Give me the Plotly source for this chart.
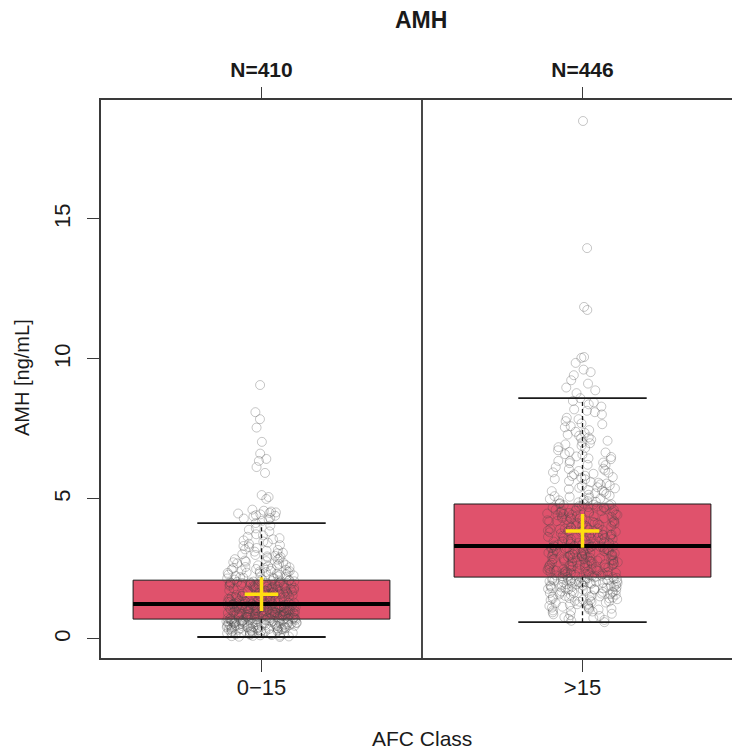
import plotly.graph_objects as go

# ---------------- data ----------------
categories = ["0\u221215", ">15"]
positions = [1, 2]
n_labels = ["N=410", "N=446"]

# box statistics (ng/mL)
q1 = [0.71, 2.21]
median = [1.25, 3.32]
q3 = [2.10, 4.82]
whisker_low = [0.07, 0.60]
whisker_high = [4.14, 8.60]
means = [1.60, 3.86]

# individual AMH values, AFC class 0-15
amh_0_15 = [
    0.07,0.09,0.12,0.15,0.11,0.18,0.21,0.14,0.24,0.27,0.19,0.31,0.08,0.22,0.35,0.29,0.26,0.38,0.33,0.17,
    0.41,0.36,0.44,0.13,0.28,0.47,0.39,0.52,0.32,0.49,0.25,0.55,0.43,0.58,0.37,0.61,0.46,0.2,0.53,0.64,
    0.4,0.57,0.67,0.1,0.5,0.62,0.34,0.69,0.45,0.56,0.3,0.65,0.23,0.59,0.48,0.7,0.42,0.54,0.16,0.63,
    0.51,0.68,0.37,0.6,0.44,0.66,0.27,0.57,0.71,0.48,0.35,0.62,0.53,0.69,0.4,0.58,0.45,0.66,0.31,0.55,
    0.64,0.5,0.7,0.43,0.6,0.38,0.67,0.52,0.47,0.63,0.56,0.33,0.68,0.59,0.41,0.65,0.54,0.7,0.49,0.61,
    0.46,0.71,
    0.72,0.75,0.78,0.81,0.84,0.87,0.9,0.93,0.96,0.99,1.02,1.05,1.08,1.11,1.14,1.17,1.2,1.23,0.74,0.79,
    0.83,0.88,0.92,0.97,1.01,1.06,1.1,1.15,1.19,1.24,0.73,0.77,0.82,0.86,0.91,0.95,1.0,1.04,1.09,1.13,
    1.18,1.22,0.76,0.8,0.85,0.89,0.94,0.98,1.03,1.07,1.12,1.16,1.21,1.25,0.72,0.78,0.84,0.9,0.96,1.02,
    1.08,1.14,1.2,0.74,0.81,0.88,0.95,1.01,1.07,1.13,1.19,0.76,0.83,0.9,0.97,1.04,1.11,1.18,1.24,0.79,
    0.86,0.93,1.0,1.06,1.12,1.17,1.22,0.73,0.8,0.87,0.94,0.99,1.05,1.1,1.15,1.21,0.77,0.85,0.92,1.03,
    1.09,1.16,
    1.26,1.3,1.34,1.38,1.42,1.46,1.5,1.54,1.58,1.62,1.66,1.7,1.74,1.78,1.82,1.86,1.9,1.94,1.98,2.02,
    2.06,2.09,1.28,1.33,1.37,1.41,1.45,1.49,1.53,1.57,1.61,1.65,1.69,1.73,1.77,1.81,1.85,1.89,1.93,1.97,
    2.01,2.05,1.27,1.31,1.36,1.4,1.44,1.48,1.52,1.56,1.6,1.64,1.68,1.72,1.76,1.8,1.84,1.88,1.92,1.96,
    2.0,2.04,2.08,1.29,1.35,1.43,1.51,1.59,1.67,1.75,1.83,1.91,1.99,2.07,1.32,1.39,1.47,1.55,1.63,1.71,
    1.79,1.87,1.95,2.03,1.26,1.34,1.44,1.52,1.62,1.7,1.8,1.9,2.0,2.1,1.3,1.48,1.66,1.84,2.02,1.58,
    1.76,1.94,
    2.12,2.15,2.18,2.21,2.24,2.27,2.3,2.33,2.36,2.39,2.42,2.45,2.48,2.51,2.54,2.57,2.6,2.64,2.68,2.72,
    2.76,2.8,2.85,2.9,2.95,3.0,3.06,3.12,3.18,3.25,3.32,3.4,3.48,3.56,3.65,3.74,3.84,3.95,4.05,4.14,
    2.13,2.19,2.25,2.31,2.37,2.43,2.5,2.56,2.63,2.7,2.78,2.87,2.97,3.08,3.2,3.35,3.52,3.7,3.9,2.16,
    2.22,2.29,2.35,2.41,2.47,2.53,2.62,2.74,2.83,2.93,3.03,3.15,3.28,3.44,3.6,2.2,2.4,
    9.07,8.1,7.85,7.55,7.04,6.62,6.43,6.36,6.14,5.93,5.14,5.07,5.0,4.62,4.58,4.55,4.52,4.5,4.48,4.45,
    4.42,4.4,4.38,4.32,4.3,4.26,4.22,
]

# individual AMH values, AFC class >15
amh_gt_15 = [
    0.6,0.68,0.75,0.82,0.88,0.95,1.0,1.05,1.1,1.15,1.2,1.25,1.3,1.34,1.38,1.42,1.46,1.5,1.54,1.57,
    1.6,1.63,1.66,1.69,1.72,1.75,1.78,1.8,1.83,1.85,1.88,1.9,1.93,1.95,1.97,2.0,2.02,2.04,2.06,2.08,
    2.1,2.12,2.14,2.16,2.18,2.2,0.72,0.9,1.02,1.12,1.22,1.32,1.4,1.48,1.55,1.62,1.68,1.74,1.79,1.84,
    1.89,1.94,1.99,2.03,2.07,2.11,2.15,2.19,0.65,0.85,0.98,1.08,1.18,1.28,1.36,1.44,1.52,1.59,1.65,1.71,
    1.77,1.82,1.87,1.92,1.96,2.01,2.05,2.09,2.13,2.17,2.21,0.78,1.06,1.24,1.39,1.51,1.64,1.76,1.86,1.98,
    2.08,2.16,1.14,1.45,1.7,1.91,2.06,1.33,1.58,1.81,2.0,
    2.22,2.25,2.28,2.31,2.34,2.37,2.4,2.43,2.46,2.49,2.52,2.55,2.58,2.61,2.64,2.67,2.7,2.73,2.76,2.79,
    2.82,2.85,2.88,2.91,2.94,2.97,3.0,3.03,3.06,3.09,3.12,3.15,3.18,3.21,3.24,3.27,3.3,2.23,2.27,2.32,
    2.36,2.41,2.45,2.5,2.54,2.59,2.63,2.68,2.72,2.77,2.81,2.86,2.9,2.95,2.99,3.04,3.08,3.13,3.17,3.22,
    3.26,3.31,2.24,2.3,2.38,2.44,2.51,2.57,2.65,2.71,2.78,2.84,2.92,2.98,3.05,3.11,3.19,3.25,3.32,2.26,
    2.35,2.47,2.56,2.66,2.75,2.87,2.96,3.07,3.16,3.28,2.29,2.42,2.53,2.62,2.74,2.83,2.93,3.02,3.14,3.23,
    2.33,2.48,2.6,2.8,2.89,3.01,3.1,3.2,3.29,2.39,2.69,2.99,
    3.34,3.38,3.42,3.46,3.5,3.54,3.58,3.62,3.66,3.7,3.74,3.78,3.82,3.86,3.9,3.94,3.98,4.02,4.06,4.1,
    4.14,4.18,4.22,4.26,4.3,4.34,4.38,4.42,4.46,4.5,4.54,4.58,4.62,4.66,4.7,4.74,4.78,4.82,3.36,3.41,
    3.47,3.52,3.57,3.63,3.68,3.73,3.79,3.84,3.89,3.95,4.0,4.05,4.11,4.16,4.21,4.27,4.32,4.37,4.43,4.48,
    4.53,4.59,4.64,4.69,4.75,4.8,3.33,3.4,3.49,3.56,3.65,3.72,3.81,3.88,3.97,4.04,4.13,4.2,4.29,4.36,
    4.45,4.52,4.61,4.68,4.77,3.37,3.48,3.6,3.71,3.83,3.93,4.07,4.19,4.31,4.44,4.56,4.71,3.44,3.61,3.77,
    3.92,4.09,4.24,4.4,4.57,4.73,3.53,3.87,4.15,4.49,4.81,3.69,
    4.85,4.9,4.95,5.0,5.05,5.1,5.15,5.2,5.25,5.3,5.35,5.4,5.46,5.52,5.58,5.64,5.7,5.76,5.82,5.88,
    5.94,6.0,6.07,6.14,6.21,6.28,6.35,6.42,6.5,6.58,6.66,6.74,6.82,6.9,6.99,7.08,7.17,7.26,7.36,7.46,
    7.56,7.67,7.78,7.9,8.02,8.15,8.3,8.45,8.6,4.88,4.98,5.08,5.18,5.28,5.38,5.49,5.6,5.71,5.83,5.95,
    6.08,6.22,6.36,6.52,6.68,6.85,7.02,7.2,7.4,7.6,7.85,8.1,8.38,4.92,5.12,5.32,5.55,5.78,6.02,6.3,
    6.6,6.95,7.3,7.7,8.2,5.02,5.42,5.9,6.45,7.12,8.5,4.83,
    8.78,8.88,8.98,9.12,9.24,9.42,9.53,9.62,9.86,10.04,10.07,11.75,11.86,13.96,18.5,
]

# ---------------- styles ----------------
FONT = "Liberation Sans, Arial, sans-serif"
BOX_FILL = "rgb(224,82,108)"
BOX_W = 0.8
CAP_HALF = 0.2
INK = "#1a1a1a"
AX = "#3a3a3a"
FIG_W, FIG_H = 743, 750          # right frame edge falls just outside the 732 px window
M_L, M_R, M_T, M_B = 101, 0, 100, 92
PLOT_W = FIG_W - M_L - M_R
PLOT_H = FIG_H - M_T - M_B

fig = go.Figure()

# boxes (quartiles only; whiskers drawn separately as dashed lines)
fig.add_trace(go.Box(
    x=positions, q1=q1, median=median, q3=q3,
    lowerfence=q1, upperfence=q3,
    width=BOX_W, whiskerwidth=0,
    fillcolor=BOX_FILL, line=dict(color=INK, width=1),
    boxpoints=False, showlegend=False, hoverinfo="skip",
))

# whiskers (dashed) and caps
for i, p in enumerate(positions):
    fig.add_trace(go.Scatter(
        x=[p, p], y=[q3[i], whisker_high[i]], mode="lines",
        line=dict(color=INK, width=1.3, dash="4px,3px"),
        showlegend=False, hoverinfo="skip"))
    fig.add_trace(go.Scatter(
        x=[p, p], y=[whisker_low[i], q1[i]], mode="lines",
        line=dict(color=INK, width=1.3, dash="4px,3px"),
        showlegend=False, hoverinfo="skip"))
    for w in (whisker_low[i], whisker_high[i]):
        fig.add_trace(go.Scatter(
            x=[p - CAP_HALF, p + CAP_HALF], y=[w, w], mode="lines",
            line=dict(color=INK, width=1.8),
            showlegend=False, hoverinfo="skip"))

# jittered raw points
fig.add_trace(go.Box(
    x=[positions[0]] * len(amh_0_15) + [positions[1]] * len(amh_gt_15),
    y=amh_0_15 + amh_gt_15,
    boxpoints="all", jitter=1, pointpos=0, width=0.22,
    fillcolor="rgba(0,0,0,0)", line=dict(color="rgba(0,0,0,0)", width=0),
    marker=dict(symbol="circle-open", size=9, color="rgba(70,70,70,0.3)",
                line=dict(width=1)),
    showlegend=False, hoverinfo="skip",
))

# medians on top
for i, p in enumerate(positions):
    fig.add_trace(go.Scatter(
        x=[p - BOX_W / 2, p + BOX_W / 2], y=[median[i], median[i]], mode="lines",
        line=dict(color="black", width=4), showlegend=False, hoverinfo="skip"))

# means (yellow cross)
fig.add_trace(go.Scatter(
    x=positions, y=means, mode="markers",
    marker=dict(symbol="cross-thin-open", size=24, color="#FFDF10",
                line=dict(width=3.5, color="#FFDF10")),
    showlegend=False, hoverinfo="skip"))

# invisible trace to activate the top axis
fig.add_trace(go.Scatter(x=positions, y=[None, None], xaxis="x2", mode="markers",
                         showlegend=False, hoverinfo="skip"))

# panel divider
fig.add_shape(type="line", xref="x", yref="paper", x0=1.5, x1=1.5, y0=0, y1=1,
              line=dict(color=INK, width=1.6))

# titles as annotations placed in pixels relative to the plot frame
fig.add_annotation(text="<b>AMH</b>", xref="paper", yref="paper", x=(421 - M_L) / PLOT_W,
                   y=1, yshift=M_T - 20, showarrow=False, xanchor="center",
                   yanchor="middle", font=dict(size=23, color=INK))
fig.add_annotation(text="AFC Class", xref="paper", yref="paper", x=(422 - M_L) / PLOT_W,
                   y=0, yshift=-(738 - (FIG_H - M_B)), showarrow=False,
                   xanchor="center", yanchor="middle", font=dict(size=21, color=INK))
fig.add_annotation(text="AMH [ng/mL]", xref="paper", yref="paper", x=0,
                   xshift=-(M_L - 22), y=((FIG_H - M_B) - 378) / PLOT_H,
                   textangle=-90, showarrow=False, xanchor="center",
                   yanchor="middle", font=dict(size=20, color=INK))

fig.update_layout(
    width=FIG_W, height=FIG_H,
    margin=dict(l=M_L, r=M_R, t=M_T, b=M_B, autoexpand=False),
    paper_bgcolor="white", plot_bgcolor="white",
    boxmode="overlay",
    font=dict(family=FONT, size=22, color=INK),
    xaxis=dict(range=[0.5, 2.5], tickmode="array", tickvals=positions,
               ticktext=categories, ticks="outside", ticklen=12, tickwidth=1.3,
               tickcolor=AX, showline=True, linecolor=AX, linewidth=1.6,
               mirror=True, showgrid=False, zeroline=False, automargin=False,
               ticklabelstandoff=-3, tickfont=dict(size=22)),
    xaxis2=dict(overlaying="x", side="top", matches="x", range=[0.5, 2.5],
                tickmode="array", tickvals=positions,
                ticktext=["<b>" + t + "</b>" for t in n_labels],
                ticks="outside", ticklen=12, tickwidth=1.3, tickcolor=AX,
                showgrid=False, zeroline=False, showline=False, automargin=False,
                ticklabelstandoff=2, tickfont=dict(size=21)),
    yaxis=dict(range=[-0.68, 19.25], tickmode="array", tickvals=[0, 5, 10, 15],
               ticks="outside", ticklen=12, tickwidth=1.3, tickcolor=AX,
               tickangle=-90, showline=True, linecolor=AX, linewidth=1.6,
               showgrid=False, zeroline=False, ticklabelstandoff=8,
               automargin=False, tickfont=dict(size=22)),
)

fig.write_html(
    "out.html",
    config={"displayModeBar": False},
    post_script=("document.body.style.margin='0';"
                 "document.body.style.overflow='hidden';"
                 "document.documentElement.style.overflow='hidden';"),
)
